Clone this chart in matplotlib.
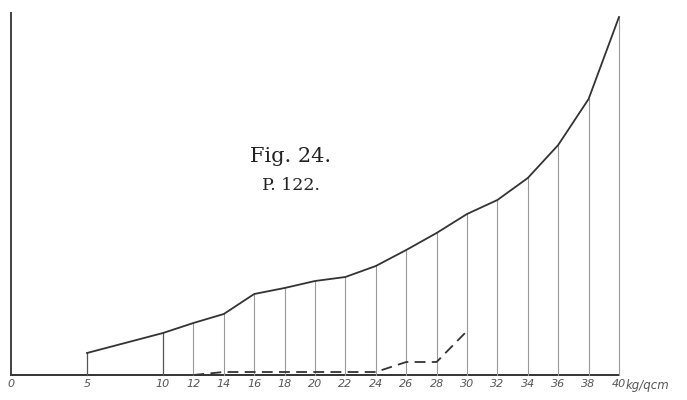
import matplotlib.pyplot as plt

x_vals = [5, 10, 12, 14, 16, 18, 20, 22, 24, 26, 28, 30, 32, 34, 36, 38, 40]
curve = [22, 42, 52, 61, 81, 87, 94, 98, 109, 125, 142, 161, 175, 197, 230, 276, 358]

dash_x = [12, 14, 16, 18, 20, 22, 24, 26, 28, 30]
dash_y = [0, 3, 3, 3, 3, 3, 3, 13, 13, 44]

tick_vals = [0, 5, 10, 12, 14, 16, 18, 20, 22, 24, 26, 28, 30, 32, 34, 36, 38, 40]
axis_top = 363

fig = plt.figure(figsize=(6.87, 4.0), dpi=100)
ax = fig.add_axes([0, 0, 1, 1])
ax.set_xlim(-11 / 15.2, 676 / 15.2)
ax.set_ylim(-25, 375)
ax.axis("off")

# axes drawn by hand like the original plate
ax.plot([0, 0], [0, axis_top], color="#333333", lw=1.3, solid_capstyle="butt")
ax.plot([0, 40], [0, 0], color="#333333", lw=1.4)

# ordinates
for x, y in zip(x_vals, curve):
    if x <= 10:
        ax.plot([x, x], [0, y], color="#555555", lw=0.9)
    else:
        ax.plot([x, x], [0, y], color="#999999", lw=0.8)

ax.plot(x_vals, curve, color="#333333", lw=1.3)
ax.plot(dash_x, dash_y, color="#333333", lw=1.3, dashes=(6, 3.5))

for t in tick_vals:
    ax.text(t, -9, str(t), ha="center", va="center", fontsize=8,
            style="italic", color="#555555", family="DejaVu Sans")
ax.text(40.45, -10, "kg/qcm", ha="left", va="center", fontsize=8.5,
        style="italic", color="#555555", family="DejaVu Sans")

ax.text(18.4, 218, "Fig. 24.", ha="center", va="center", fontsize=15,
        family="DejaVu Serif", color="#222222")
ax.text(18.4, 189, "P. 122.", ha="center", va="center", fontsize=12.5,
        family="DejaVu Serif", color="#222222")

plt.savefig("out.png", dpi=100)
